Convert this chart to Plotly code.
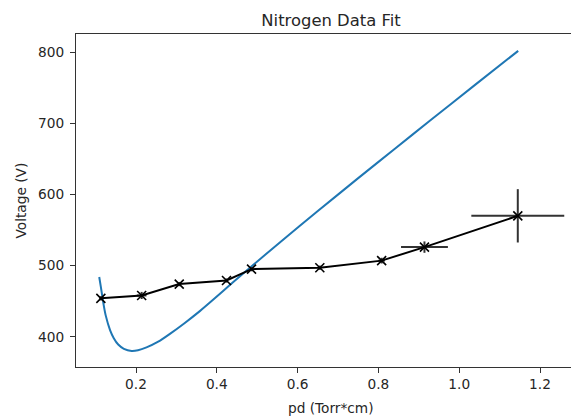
import plotly.graph_objects as go

# Measured data (black with error bars)
pd_data = [0.113, 0.214, 0.307, 0.424, 0.486, 0.655, 0.808, 0.914, 1.145]
v_data = [454, 458, 474, 479, 495, 497, 507, 526, 570]
pd_err = [0.004, 0.012, 0.004, 0.004, 0.004, 0.004, 0.008, 0.058, 0.115]
v_err = [3, 5, 3, 3, 3, 3, 4, 8, 37.5]

# Fit curve (blue)
pd_fit = [0.109, 0.113, 0.119, 0.125, 0.136, 0.145, 0.156, 0.170, 0.189, 0.205,
          0.226, 0.255, 0.284, 0.320, 0.358, 0.395, 0.433, 0.482, 0.556, 0.650,
          0.750, 0.840, 0.928, 1.040, 1.146]
v_fit = [484, 470, 448, 430, 409, 398, 389, 383, 380, 381,
         385, 393, 404, 419, 436, 454, 473, 497, 532.5, 576.7,
         623, 664, 704, 754.5, 802]

x_ticks = [0.2, 0.4, 0.6, 0.8, 1.0, 1.2]
x_ticklabels = ["0.2", "0.4", "0.6", "0.8", "1.0", "1.2"]
y_ticks = [400, 500, 600, 700, 800]

FONT = "DejaVu Sans"
TXT = "#262626"

fig = go.Figure()
fig.add_trace(go.Scatter(
    x=pd_fit, y=v_fit, mode="lines",
    line=dict(color="#1f77b4", width=2, shape="spline", smoothing=0.6),
    showlegend=False, hoverinfo="skip"))
fig.add_trace(go.Scatter(
    x=pd_data, y=v_data, mode="lines+markers",
    line=dict(color="black", width=2),
    marker=dict(symbol="x-thin", size=9, color="black",
                line=dict(color="black", width=1.6)),
    error_x=dict(type="data", array=pd_err, color="#333333", thickness=2, width=0),
    error_y=dict(type="data", array=v_err, color="#333333", thickness=2, width=0),
    showlegend=False))

# The page body has an 8px margin, so the figure is 8px smaller and shifted.
fig.update_layout(
    width=571, height=412,
    margin=dict(l=68, r=0, t=26, b=53),
    paper_bgcolor="white", plot_bgcolor="white",
    font=dict(family=FONT, size=13.7, color=TXT),
    title=dict(text="Nitrogen Data Fit", x=0.507, xref="paper", xanchor="center",
               y=1 - 12 / 412, yref="container", yanchor="middle",
               font=dict(family=FONT, size=16.4, color=TXT)),
    annotations=[
        dict(text="pd (Torr*cm)", x=0.507, xref="paper", y=-40.5 / 333, yref="paper",
             xanchor="center", yanchor="middle", showarrow=False,
             font=dict(family=FONT, size=13.7, color=TXT)),
        dict(text="Voltage (V)", x=-56 / 503, xref="paper", y=0.5, yref="paper",
             xanchor="center", yanchor="middle", textangle=-90, showarrow=False,
             font=dict(family=FONT, size=13.7, color=TXT)),
    ],
)
fig.update_xaxes(
    range=[0.0515, 1.2965], tickvals=x_ticks, ticktext=x_ticklabels,
    showgrid=False, zeroline=False,
    showline=True, linecolor="#333333", linewidth=1, mirror=True,
    ticks="outside", ticklen=5, tickcolor="#333333", tickwidth=1,
    tickfont=dict(family=FONT, size=13.7, color=TXT))
fig.update_yaxes(
    range=[357.4, 825.7], tickvals=y_ticks,
    showgrid=False, zeroline=False,
    showline=True, linecolor="#333333", linewidth=1,
    ticks="outside", ticklen=5, tickcolor="#333333", tickwidth=1,
    ticklabelstandoff=3,
    tickfont=dict(family=FONT, size=13.7, color=TXT))

fig.write_html("out.html")
